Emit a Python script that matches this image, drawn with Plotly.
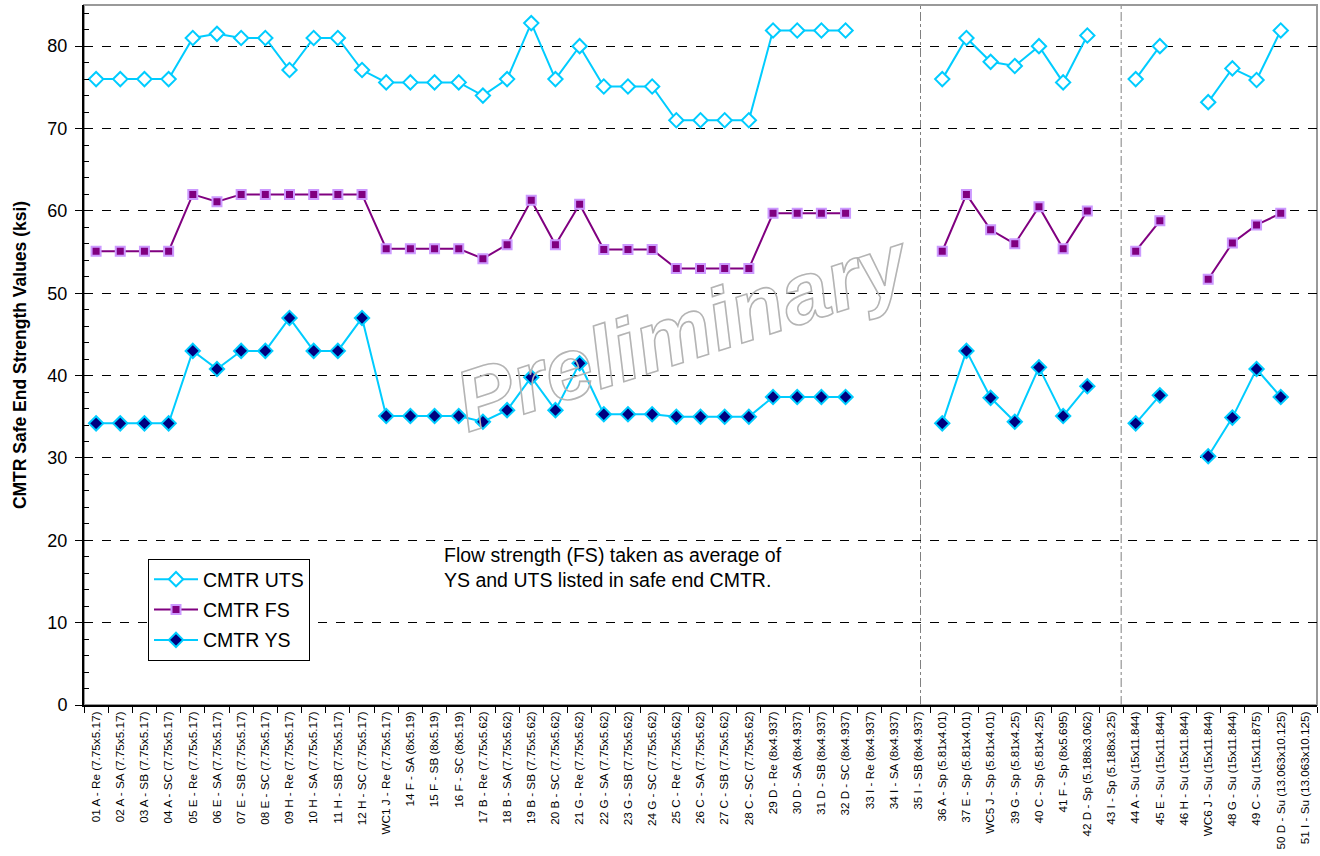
import plotly.graph_objects as go

# Safe end specimens (location - type (OD x ID))
categories = [
    "01 A - Re (7.75x5.17)", "02 A - SA (7.75x5.17)", "03 A - SB (7.75x5.17)", "04 A - SC (7.75x5.17)",
    "05 E - Re (7.75x5.17)", "06 E - SA (7.75x5.17)", "07 E - SB (7.75x5.17)", "08 E - SC (7.75x5.17)",
    "09 H - Re (7.75x5.17)", "10 H - SA (7.75x5.17)", "11 H - SB (7.75x5.17)", "12 H - SC (7.75x5.17)",
    "WC1 J - Re (7.75x5.17)", "14 F - SA (8x5.19)", "15 F - SB (8x5.19)", "16 F - SC (8x5.19)",
    "17 B - Re (7.75x5.62)", "18 B - SA (7.75x5.62)", "19 B - SB (7.75x5.62)", "20 B - SC (7.75x5.62)",
    "21 G - Re (7.75x5.62)", "22 G - SA (7.75x5.62)", "23 G - SB (7.75x5.62)", "24 G - SC (7.75x5.62)",
    "25 C - Re (7.75x5.62)", "26 C - SA (7.75x5.62)", "27 C - SB (7.75x5.62)", "28 C - SC (7.75x5.62)",
    "29 D - Re (8x4.937)", "30 D - SA (8x4.937)", "31 D - SB (8x4.937)", "32 D - SC (8x4.937)",
    "33 I - Re (8x4.937)", "34 I - SA (8x4.937)", "35 I - SB (8x4.937)",
    "36 A - Sp (5.81x4.01)", "37 E - Sp (5.81x4.01)", "WC5 J - Sp (5.81x4.01)", "39 G - Sp (5.81x4.25)",
    "40 C - Sp (5.81x4.25)", "41 F - Sp (8x5.695)", "42 D - Sp (5.188x3.062)", "43 I - Sp (5.188x3.25)",
    "44 A - Su (15x11.844)", "45 E - Su (15x11.844)", "46 H - Su (15x11.844)", "WC6 J - Su (15x11.844)",
    "48 G - Su (15x11.844)", "49 C - Su (15x11.875)", "50 D - Su (13.063x10.125)", "51 I - Su (13.063x10.125)",
]

# Ultimate tensile strength (ksi)
uts = [
    76.0, 76.0, 76.0, 76.0, 81.0, 81.5, 81.0, 81.0, 77.1, 81.0, 81.0, 77.1,
    75.6, 75.6, 75.6, 75.6, 74.0, 76.0, 82.8, 76.0, 80.0, 75.1, 75.1, 75.1,
    71.0, 71.0, 71.0, 71.0, 81.9, 81.9, 81.9, 81.9, None, None, None,
    76.0, 81.0, 78.1, 77.6, 80.0, 75.6, 81.3, None,
    76.0, 80.0, None, 73.2, 77.3, 75.9, 81.9, None,
]

# Flow strength (ksi)
fs = [
    55.1, 55.1, 55.1, 55.1, 62.0, 61.1, 62.0, 62.0, 62.0, 62.0, 62.0, 62.0,
    55.4, 55.4, 55.4, 55.4, 54.2, 55.9, 61.3, 55.9, 60.8, 55.3, 55.3, 55.3,
    53.0, 53.0, 53.0, 53.0, 59.7, 59.7, 59.7, 59.7, None, None, None,
    55.1, 62.0, 57.7, 56.0, 60.5, 55.4, 60.0, None,
    55.1, 58.8, None, 51.7, 56.1, 58.3, 59.7, None,
]

# Yield strength (ksi)
ys = [
    34.2, 34.2, 34.2, 34.2, 43.0, 40.8, 43.0, 43.0, 47.0, 43.0, 43.0, 47.0,
    35.1, 35.1, 35.1, 35.1, 34.4, 35.8, 39.8, 35.8, 41.5, 35.3, 35.3, 35.3,
    35.0, 35.0, 35.0, 35.0, 37.4, 37.4, 37.4, 37.4, None, None, None,
    34.2, 43.0, 37.3, 34.4, 41.0, 35.1, 38.7, None,
    34.2, 37.6, None, 30.2, 34.9, 40.8, 37.4, None,
]

# Group separators (category-index positions)
separators = [34.1, 42.4]

CYAN = "#00CCFF"
PURPLE = "#800080"
LAVENDER = "#CC99FF"
NAVY = "#000080"
FONT = "Arial, 'Liberation Sans', sans-serif"

fig = go.Figure()

fig.add_trace(go.Scatter(
    x=categories, y=uts, name="CMTR UTS", mode="lines+markers", legendgroup="uts",
    line=dict(color=CYAN, width=2),
    marker=dict(symbol="diamond", size=11, color="white", line=dict(color=CYAN, width=2)),
))
fig.add_trace(go.Scatter(
    x=categories, y=fs, name="CMTR FS", mode="lines+markers", legendgroup="fs",
    line=dict(color=PURPLE, width=2),
    marker=dict(symbol="square", size=9, color=PURPLE, line=dict(color=LAVENDER, width=2)),
))
fig.add_trace(go.Scatter(
    x=categories, y=ys, name="CMTR YS", mode="lines+markers", legendgroup="ys",
    line=dict(color=CYAN, width=2),
    marker=dict(symbol="diamond", size=11, color=NAVY, line=dict(color=CYAN, width=2)),
))

shapes = [
    # plot-area frame (top and right edges)
    dict(type="rect", xref="paper", yref="paper", x0=0, x1=1, y0=0, y1=1,
         line=dict(color="#999999", width=2), layer="below"),
]
for sx in separators:
    shapes.append(dict(type="line", xref="x", yref="paper", x0=sx, x1=sx, y0=0, y1=1,
                       line=dict(color="#808080", width=1, dash="dashdot"), layer="below"))

fig.update_layout(
    width=1320, height=856,
    margin=dict(l=84, r=3, t=5, b=151),
    paper_bgcolor="white", plot_bgcolor="white",
    font=dict(family=FONT, color="black"),
    shapes=shapes,
    showlegend=True,
    legend=dict(
        x=(148 - 84) / 1233, y=(705 - 559) / 700, xanchor="left", yanchor="top",
        bordercolor="black", borderwidth=1, bgcolor="white",
        font=dict(size=19.5, family=FONT), tracegroupgap=2,
        itemwidth=44,
    ),
    annotations=[
        dict(text="Flow strength (FS) taken as average of<br>YS and UTS listed in safe end CMTR.",
             xref="paper", yref="paper", x=(442 - 84) / 1233, y=(705 - 542) / 700,
             xanchor="left", yanchor="top", align="left", showarrow=False,
             font=dict(size=19.5, family=FONT)),
        dict(text="<b><i>Preliminary</i></b>", name="watermark",
             xref="paper", yref="paper", x=(683 - 84) / 1233, y=(705 - 331) / 700,
             xanchor="center", yanchor="middle", showarrow=False, textangle=-18,
             font=dict(size=86, family=FONT, color="#c0c0c0")),
    ],
)

fig.update_xaxes(
    type="category", range=[-0.5, 50.5],
    tickangle=-90, tickfont=dict(size=11.7, family=FONT),
    tickson="boundaries", ticks="outside", ticklen=6, tickcolor="black", tickwidth=1,
    showline=True, linecolor="black", linewidth=2,
    showgrid=False, zeroline=False,
)
fig.update_yaxes(
    range=[0, 85], dtick=10, tick0=0,
    ticks="outside", ticklen=7, tickcolor="black", tickwidth=1,
    tickfont=dict(size=18, family=FONT), ticklabelstandoff=4,
    minor=dict(dtick=2, ticks="inside", ticklen=5, tickcolor="black", showgrid=False),
    showline=True, linecolor="black", linewidth=2,
    showgrid=True, gridcolor="black", gridwidth=1, griddash="dash",
    zeroline=False,
    title=dict(text="<b>CMTR Safe End Strength Values (ksi)</b>", font=dict(size=17.5, family=FONT), standoff=16),
)

# Hollow outlined lettering for the watermark
outline_js = """
document.querySelectorAll('.annotation-text').forEach(function(t){
  if (t.textContent.indexOf('Preliminary') >= 0) {
    t.style.fill = 'none';
    t.style.stroke = '#b4b4b4';
    t.style.strokeWidth = '1.6px';
    t.querySelectorAll('*').forEach(function(s){ s.style.fill = 'none'; });
  }
});
"""

fig.write_html("out.html", post_script=outline_js)
